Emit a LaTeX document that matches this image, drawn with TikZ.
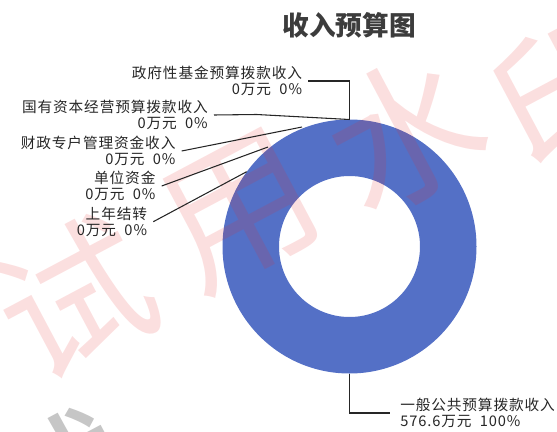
\documentclass[tikz,border=0pt]{standalone}
\usepackage{fontspec}
\setmainfont{Noto Sans CJK SC}
\newfontfamily\lblfont[LetterSpace=6]{Noto Sans CJK SC}
\usetikzlibrary{positioning}
\definecolor{donutblue}{RGB}{84,112,198}
\definecolor{titlegray}{RGB}{60,60,60}
\definecolor{wmred}{RGB}{230,40,40}

\tikzset{
  slicelabel/.style={align=right, font=\lblfont\fontsize{11}{11.6}\selectfont,
    text=black!85, inner xsep=4.5pt, inner ysep=0pt},
  leader/.style={black!85, line width=0.8pt},
  watermark/.style={text=wmred, opacity=0.15, rotate=28, inner sep=0pt,
    font=\fontsize{114}{114}\selectfont}
}

\begin{document}
\begin{tikzpicture}[x=0.75pt,y=-0.75pt]
        \useasboundingbox (0,0) rectangle (557,432);
        \clip (0,0) rectangle (557,432);

        % draw the title
        \node[font=\bfseries\fontsize{20}{20}\selectfont, text=titlegray] (title) at (349,25) {收入预算图};

        % draw the ring
        \coordinate (center) at (349.5,246.5);
        \fill[donutblue, even odd rule] (center) circle[radius=127] (center) circle[radius=70.5];

        % watermark over the ring
        \foreach \ch/\wx/\wy in {试/75/298, 用/240/212, 水/405/133, 印/572/90}
                \node[watermark] (wm-\wx) at (\wx,\wy) {\ch};
        \node[watermark, text=gray, opacity=0.45] (wm-gray) at (58,492) {试};

        % points on the outer edge
        \coordinate (top)    at (349.5,119.5);
        \coordinate (bottom) at (349.5,374);
        \coordinate (gyzb-bend) at (256.7,114.5);
        \coordinate (czzh-end) at (302,127);
        \coordinate (dwzj-end) at (268,147);
        \coordinate (snjz-end) at (246.7,171.7);

        % draw the labels
        \node[slicelabel, anchor=east] (zfjj) at (308.3,81)  {政府性基金预算拨款收入\\0万元\ \ 0\%};
        \node[slicelabel, anchor=east] (gyzb) at (214,115)   {国有资本经营预算拨款收入\\0万元\ \ 0\%};
        \node[slicelabel, anchor=east] (czzh) at (181.7,151) {财政专户管理资金收入\\0万元\ \ 0\%};
        \node[slicelabel, anchor=east] (dwzj) at (161.7,186) {单位资金\\0万元\ \ 0\%};
        \node[slicelabel, anchor=east] (snjz) at (153.3,221.7) {上年结转\\0万元\ \ 0\%};
        \node[slicelabel, align=left, anchor=west, inner xsep=7.5pt] (ybgg) at (390,413) {一般公共预算拨款收入\\576.6万元\ \ 100\%};

        % draw the leader lines
        \draw[leader] (zfjj.east) -- (top |- zfjj.east) -- (top);
        \draw[leader] (gyzb.east) -- (gyzb-bend) -- (top);
        \draw[leader] (czzh.east) -- (czzh-end);
        \draw[leader] (dwzj.east) -- (dwzj-end);
        \draw[leader] (snjz.east) -- (snjz-end);
        \draw[leader] (bottom) -- (bottom |- ybgg.west) -- (ybgg.west);
\end{tikzpicture}
\end{document}
